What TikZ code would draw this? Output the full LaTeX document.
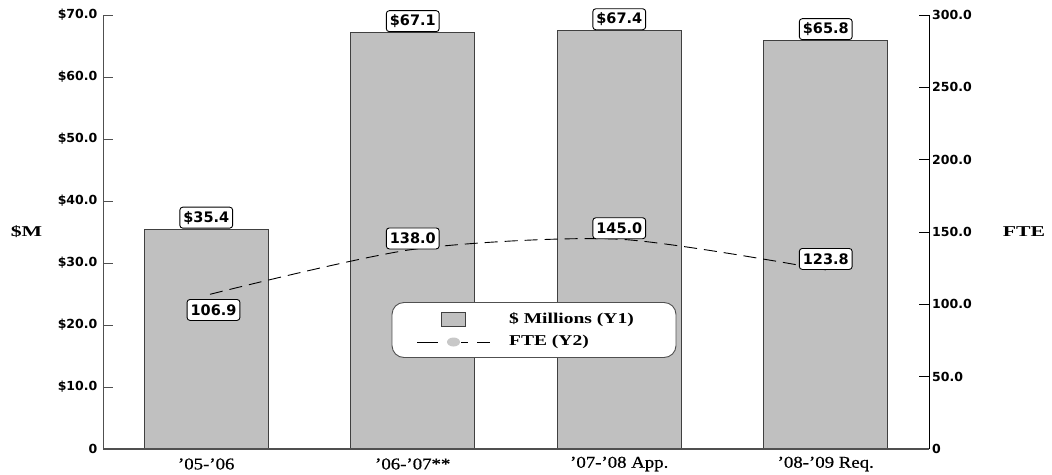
\documentclass[tikz,border=0pt]{standalone}
\usepackage{fontspec}
\setmainfont{Liberation Serif}
\newfontfamily\numfont{DejaVu Sans Bold}
\newfontfamily\titlefont{Liberation Serif Bold}[FakeStretch=1.45]
\newfontfamily\catfont{Liberation Serif}[FakeStretch=1.14,FakeBold=0.6]
\newfontfamily\legfont{Liberation Serif Bold}[FakeStretch=1.3]
\definecolor{barfill}{HTML}{C0C0C0}
\definecolor{barline}{HTML}{404040}
\definecolor{axisline}{HTML}{505050}
\definecolor{dotgray}{HTML}{C8C8C8}
\tikzset{
  bar/.style={draw=barline, fill=barfill, line width=0.9pt, inner sep=0pt, minimum width=124pt},
  vallabel/.style={draw=black, fill=white, rounded corners=3pt, line width=0.9pt,
    inner xsep=3.5pt, inner ysep=0pt, minimum height=21pt,
    font=\numfont\fontsize{14.5}{16}\selectfont},
  ticklabel/.style={font=\numfont\fontsize{12.5}{14}\selectfont, inner sep=0pt},
  axistitle/.style={font=\titlefont\fontsize{15}{17}\selectfont, inner sep=0pt},
  catlabel/.style={font=\catfont\fontsize{16.5}{18}\selectfont, inner sep=0pt},
  leglabel/.style={font=\legfont\fontsize{15}{17}\selectfont, inner sep=0pt, anchor=west},
  axis/.style={draw=axisline, line width=0.9pt},
  fteline/.style={draw=black, line width=0.9pt, dash pattern=on 13pt off 7pt},
}
\begin{document}
\begin{tikzpicture}[x=1pt, y=-1pt]
\useasboundingbox (0,0) rectangle (1052,474);

% bars ($ millions, 6.2 px per $1M, baseline y=449)
\node[bar, anchor=south, minimum height=219.5pt] (b1) at (206.25,449) {};
\node[bar, anchor=south, minimum height=416.0pt] (b2) at (412.75,449) {};
\node[bar, anchor=south, minimum height=417.9pt] (b3) at (619.25,449) {};
\node[bar, anchor=south, minimum height=408.0pt] (b4) at (825.75,449) {};

% left axis
\draw[axis] (103,15) -- (103,449);
\foreach \k/\t in {0/0,1/\$10.0,2/\$20.0,3/\$30.0,4/\$40.0,5/\$50.0,6/\$60.0,7/\$70.0}{
  \draw[axis] (103,{449-62*\k}) -- (113,{449-62*\k});
  \node[ticklabel, anchor=east] at (97.5,{449-62*\k}) {\t};
}
% right axis
\draw[draw=black, line width=0.9pt] (929,15) -- (929,449);
\foreach \k/\t in {0/0,1/50.0,2/100.0,3/150.0,4/200.0,5/250.0,6/300.0}{
  \draw[draw=black, line width=0.9pt] (919,{449-72.333*\k}) -- (929,{449-72.333*\k});
  \node[ticklabel, anchor=west] at (932,{449-72.333*\k}) {\t};
}
% category axis
\draw[draw=axisline, line width=1.6pt] (103,449) -- (929,449);

% axis titles
\node[axistitle] (ty1) at (26.5,232) {\$M};
\node[axistitle] (ty2) at (1024,232) {FTE};

% category labels
\node[catlabel] (c1) at (206.25,464) {’05-’06};
\node[catlabel] (c2) at (412.75,464) {’06-’07**};
\node[catlabel] (c3) at (619.25,464) {’07-’08 App.};
\node[catlabel] (c4) at (825.75,464) {’08-’09 Req.};

% FTE series (1.4467 px per FTE)
\coordinate (p1) at (210,294.3);
\coordinate (p2) at (412.75,249.4);
\coordinate (p3) at (619.25,239.2);
\coordinate (p4) at (825.75,269.9);
\draw[fteline] plot[smooth, tension=0.45] coordinates {(p1) (p2) (p3) (p4)};

% value labels
\node[vallabel, anchor=south] (v1) at (b1.north) {\$35.4};
\node[vallabel, anchor=south] (v2) at (b2.north) {\$67.1};
\node[vallabel, anchor=south] (v3) at (b3.north) {\$67.4};
\node[vallabel, anchor=south] (v4) at (b4.north) {\$65.8};

\node[vallabel, anchor=north] (f1) at (213.5,299) {106.9};
\node[vallabel, anchor=south] (f2) at (p2) {138.0};
\node[vallabel, anchor=south] (f3) at (p3) {145.0};
\node[vallabel, anchor=south] (f4) at (p4) {123.8};

% legend
\node[draw=axisline, fill=white, line width=0.9pt, rounded corners=12pt,
      minimum width=284pt, minimum height=55pt, inner sep=0pt] (leg) at (534,330) {};
\node[bar, minimum width=24pt, minimum height=14pt] (sw) at (453,319) {};
\node[leglabel] (lt1) at (509,320) {\$ Millions (Y1)};
\node[leglabel] (lt2) at (509,342) {FTE (Y2)};
\coordinate (la) at (417,342);
\coordinate (lb) at (438,342);
\coordinate (lc) at (461,342);
\coordinate (ld) at (468,342);
\coordinate (le) at (477,342);
\coordinate (lf) at (490,342);
\draw[draw=black, line width=0.9pt] (la) -- (lb) (lc) -- (ld) (le) -- (lf);
\fill[dotgray] (453.5,342) ellipse (6.5pt and 4.5pt);
\end{tikzpicture}
\end{document}
